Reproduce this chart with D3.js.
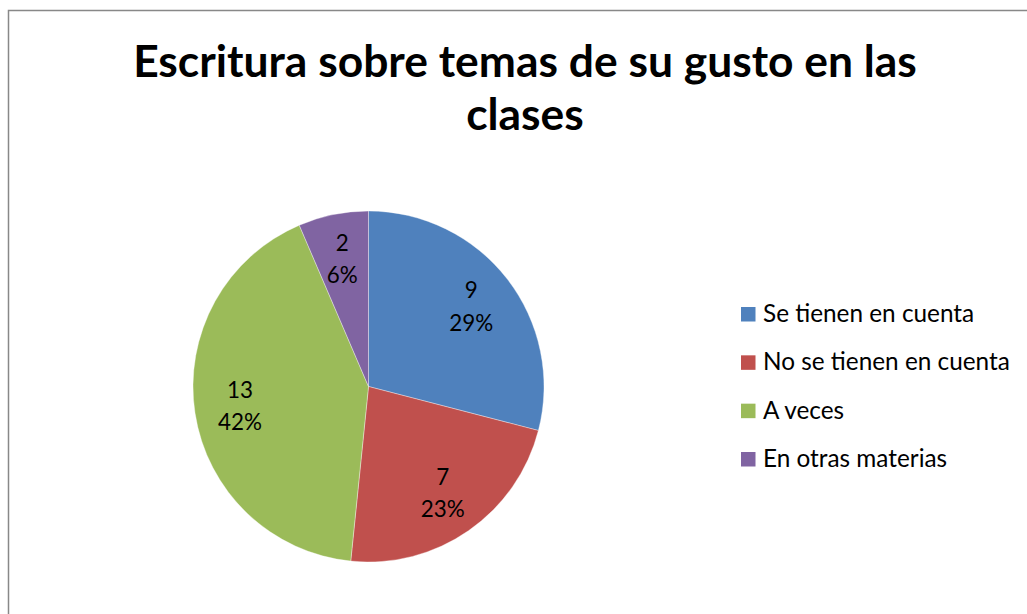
<!DOCTYPE html>
<html><head><meta charset="utf-8">
<script src="https://cdn.jsdelivr.net/npm/d3@7"></script>
<style>html,body{margin:0;padding:0;background:#fff;overflow:hidden}</style>
</head><body>
<svg id="c" width="1027" height="614"></svg>
<script>
const titleLines = ["Escritura sobre temas de su gusto en las", "clases"];
const categories = ["Se tienen en cuenta", "No se tienen en cuenta", "A veces", "En otras materias"];
const values = [9, 7, 13, 2];
const percentLabels = ["29%", "23%", "42%", "6%"];
const colors = ["#4F81BD", "#C0504D", "#9BBB59", "#8064A2"];

const svg = d3.select("#c");
const FONT = "Lato, Carlito, Calibri, sans-serif";

// chart border
svg.append("rect").attr("x", 8.5).attr("y", 10.5).attr("width", 1200).attr("height", 800)
  .attr("fill", "#fff").attr("stroke", "#888").attr("stroke-width", 1.5);

function fit(sel, target) {
  const fs = parseFloat(sel.attr("font-size"));
  const w = sel.node().getComputedTextLength();
  const nfs = fs * target / w;
  sel.attr("font-size", nfs);
  return nfs;
}

// title
const t1 = svg.append("text").attr("x", 525).attr("y", 77).attr("text-anchor", "middle")
  .attr("font-family", FONT).attr("font-weight", "bold").attr("font-size", 40).attr("fill", "#000")
  .text(titleLines[0]);
const tfs = fit(t1, 784);
svg.append("text").attr("x", 525).attr("y", 130).attr("text-anchor", "middle")
  .attr("font-family", FONT).attr("font-weight", "bold").attr("font-size", tfs).attr("fill", "#000")
  .text(titleLines[1]);

// pie
const cx = 368.5, cy = 386.5, R = 175.5;
const pie = d3.pie().sort(null).value(d => d)(values);
const arc = d3.arc().innerRadius(0).outerRadius(R);
const labelArc = d3.arc().innerRadius(130).outerRadius(130);
const g = svg.append("g").attr("transform", `translate(${cx},${cy})`);
g.selectAll("path").data(pie).join("path")
  .attr("d", arc).attr("fill", (d, i) => colors[i])
  .attr("stroke", "rgba(255,255,255,0.6)").attr("stroke-width", 0.6);

// measure label font size
const probe = svg.append("text").attr("font-family", FONT).attr("font-size", 24).text("29%");
const lfs = fit(probe, 44);
probe.remove();

const lab = g.selectAll("g.lab").data(pie).join("g").attr("class", "lab")
  .attr("transform", d => { const c = labelArc.centroid(d); return `translate(${c[0]},${c[1]})`; });
lab.append("text").attr("text-anchor", "middle").attr("y", -8.5)
  .attr("font-family", FONT).attr("font-size", lfs).attr("fill", "#000")
  .text((d, i) => values[i]);
lab.append("text").attr("text-anchor", "middle").attr("y", 24)
  .attr("font-family", FONT).attr("font-size", lfs).attr("fill", "#000")
  .text((d, i) => percentLabels[i]);

// legend
const lg = svg.append("g");
const probe2 = lg.append("text").attr("font-family", FONT).attr("font-size", 24).text(categories[1]);
const gfs = fit(probe2, 247);
probe2.remove();
const baselines = d3.scalePoint().domain(categories).range([322, 467]);
const items = lg.selectAll("g").data(categories).join("g")
  .attr("transform", d => `translate(0,${baselines(d)})`);
items.append("rect").attr("x", 741).attr("y", -15).attr("width", 14.5).attr("height", 14.5)
  .attr("fill", (d, i) => colors[i]);
items.append("text").attr("x", 763).attr("y", 0)
  .attr("font-family", FONT).attr("font-size", gfs).attr("fill", "#000")
  .text(d => d);
</script>
</body></html>
